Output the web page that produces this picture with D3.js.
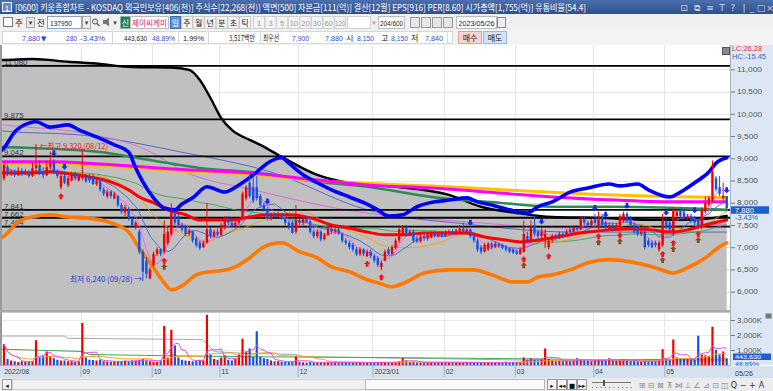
<!DOCTYPE html>
<html>
<head>
<meta charset="utf-8">
<script src="https://cdn.jsdelivr.net/npm/d3@7"></script>
<style>
	body { margin: 0; background: #fff; overflow: hidden; }
</style>
</head>
<body>
<svg id="chart" width="773" height="391"></svg>
<script>
var monthLabels = ['2022/08', '09', '10', '11', '12', '2023/01', '02', '03', '04', '05'];
var monthStarts = [0, 22, 42, 61, 83, 104, 124, 144, 166, 186];
var priceTicks = [11000, 10500, 10000, 9500, 9000, 8500, 8000, 7500, 7000, 6500, 6000];
var volumeTicks = [1000, 2000, 3000];

// open, high, low, close per trading day (2022/08/01 .. 2023/05/26)
var candles = [
	// 2022/08
	[8550,8900,8500,8850],[8800,8850,8600,8650],[8650,8750,8600,8700],[8700,8750,8580,8620],[8620,8800,8600,8720],
	[8720,8780,8600,8640],[8640,8760,8620,8700],[8700,8740,8560,8600],[8600,8900,8580,8780],[8780,9320,8700,8850],
	[8850,8950,8620,8650],[8700,8800,8550,8620],[8620,8950,8600,8800],[8800,9150,8750,8900],[8900,8980,8650,8700],
	[8700,8750,8550,8600],[8350,8650,8300,8600],[8600,8680,8420,8450],[8400,8600,8350,8550],[8500,8700,8480,8650],
	[8650,8700,8500,8550],[8500,8620,8480,8600],
	// 09
	[8550,9220,8500,8620],[8620,8650,8450,8480],[8550,8650,8450,8500],[8600,8650,8400,8420],[8420,8550,8380,8500],
	[8500,8520,8250,8300],[8300,8350,8150,8200],[8150,8300,8100,8250],[8250,8280,8100,8150],[8100,8250,8080,8200],
	[8150,8180,7900,7950],[7950,8000,7750,7800],[7780,7950,7700,7900],[7850,7900,7600,7650],[7650,7700,7450,7500],
	[7450,7600,7400,7550],[7350,7400,6850,6900],[6900,6950,6240,6450],[6700,6780,6300,6400],[6300,6550,6280,6500],
	// 10
	[6600,6900,6550,6850],[6850,7000,6800,6950],[6950,6980,6800,6850],[6900,7600,6850,7300],[7100,7450,7050,7350],
	[7300,7990,7250,7800],[7750,7800,7500,7550],[7700,7750,7450,7500],[7500,7550,7350,7400],[7450,7500,7250,7300],
	[7300,7420,7250,7380],[7350,7380,7100,7150],[7200,7250,7000,7050],[7100,7150,6940,6980],[7000,7150,6980,7100],
	[7100,7990,7080,7400],[7400,7450,7200,7250],[7250,7400,7220,7350],[7350,7420,7250,7280],
	// 11
	[7280,7550,7250,7500],[7450,7700,7400,7650],[7650,7700,7500,7550],[7550,7650,7450,7480],[7480,7600,7450,7550],
	[7550,7650,7500,7600],[7650,8250,7600,8200],[8100,8400,8050,8350],[8450,8650,8100,8150],[8350,8660,8000,8050],
	[8350,8600,8050,8100],[8150,8200,7900,7950],[7950,8000,7800,7850],[7850,7900,7600,7650],[7650,7780,7600,7720],
	[7720,7780,7650,7680],[7680,7800,7650,7730],[7730,7760,7620,7650],[7650,7700,7500,7550],[7550,7600,7400,7450],
	[7550,7600,7300,7320],[7350,7950,7300,7600],
	// 12
	[7600,7650,7500,7550],[7550,7700,7500,7650],[7650,7700,7550,7580],[7580,7620,7300,7350],[7350,7400,7200,7250],
	[7250,7400,7200,7350],[7350,7380,7130,7180],[7180,7320,7150,7280],[7280,7500,7250,7420],[7420,7450,7300,7350],
	[7350,7450,7300,7400],[7400,7450,7280,7300],[7300,7330,7100,7150],[7150,7200,7050,7100],[7100,7150,6950,7000],
	[7050,7100,6900,6950],[6950,7000,6800,6850],[6850,7000,6800,6950],[6950,6980,6800,6850],[6800,6950,6780,6900],
	[6900,6950,6750,6800],
	// 2023/01
	[6800,6850,6650,6700],[6750,6800,6550,6600],[6550,6700,6480,6650],[6700,6950,6680,6900],[6950,7000,6820,6850],
	[6850,7050,6820,7000],[6980,7200,6950,7150],[7150,7500,7100,7400],[7300,7500,7250,7450],[7450,7500,7250,7300],
	[7300,7400,7250,7350],[7350,7400,7100,7150],[7200,7250,7100,7130],[7130,7280,7100,7230],[7250,7300,7150,7200],
	[7200,7320,7150,7280],[7220,7350,7200,7300],[7320,7360,7220,7250],[7250,7350,7220,7300],[7300,7340,7220,7250],
	// 02
	[7250,7380,7230,7330],[7300,7400,7280,7350],[7360,7400,7280,7300],[7300,7420,7280,7380],[7350,7500,7320,7420],
	[7420,7550,7320,7350],[7350,7450,7330,7400],[7400,7420,7200,7250],[7250,7280,7100,7150],[7150,7200,6900,6950],
	[7000,7050,6850,6900],[6900,7100,6880,7050],[6950,7120,6920,7080],[7080,7120,6950,7000],[7000,7130,6980,7080],
	[7080,7100,6980,7020],[7050,7080,6950,6980],[7000,7050,6900,6950],[6980,7000,6870,6900],[6950,6980,6850,6880],
	// 03
	[6900,6950,6830,6850],[6850,7000,6830,6950],[6900,7600,6880,7300],[7250,7350,7100,7150],[7150,7600,7100,7450],
	[7500,7700,7250,7300],[7350,7400,7200,7250],[7250,7450,7200,7350],[7150,7400,6980,7300],[7000,7200,6950,7150],
	[7150,7300,7100,7250],[7250,7300,7150,7200],[7200,7350,7180,7300],[7300,7350,7200,7250],[7250,7400,7230,7350],
	[7400,7450,7300,7350],[7350,7500,7320,7450],[7450,7500,7350,7400],[7400,7700,7380,7650],[7650,7700,7500,7550],
	[7550,7600,7450,7500],[7500,7650,7480,7600],
	// 04
	[7650,7750,7500,7550],[7450,7800,7400,7700],[7700,7750,7450,7500],[7550,7600,7400,7450],[7400,7550,7380,7500],
	[7500,7550,7350,7400],[7400,7550,7380,7500],[7450,7750,7420,7700],[7600,7800,7550,7750],[7750,7800,7550,7600],
	[7650,7700,7450,7500],[7500,7550,7300,7350],[7400,7450,7250,7300],[7300,7400,7250,7350],[7350,7380,6950,7000],
	[7150,7200,7000,7050],[7100,7150,6980,7000],[7100,7150,7000,7050],[6950,7150,6900,7100],[7050,7750,7000,7600],
	// 05
	[7600,7650,7400,7450],[7550,7600,7350,7400],[7300,7900,7250,7850],[7700,7850,7650,7800],[7850,7900,7650,7700],
	[7800,7850,7600,7650],[7650,7750,7600,7700],[7700,7750,7550,7600],[7650,7700,7500,7550],[7600,7650,7450,7500],
	[7450,7900,7400,7850],[7800,8150,7750,8000],[7950,8150,7900,8100],[8050,8950,8000,8700],[8550,8600,8250,8300],
	[8350,8600,8150,8200],[8100,8450,8050,8160],[8150,8150,7840,7880]
];

// volume in thousands of shares
var volumes = [
	1400,400,300,250,200,250,220,200,250,1650,550,600,900,600,450,350,300,300,250,250,220,250,
	2800,500,350,330,300,330,250,230,220,230,220,250,300,250,300,280,350,400,300,250,
	220,200,300,2600,500,2350,1300,500,350,300,280,250,300,350,300,3350,700,400,350,
	500,650,350,300,400,750,1750,900,1100,550,2250,550,450,400,300,250,250,220,200,200,220,600,
	200,180,170,200,180,170,180,160,200,170,160,150,170,180,160,150,170,160,150,180,170,
	160,180,200,180,160,180,200,250,450,300,200,220,180,170,160,180,170,160,150,170,
	160,150,170,160,150,160,170,200,180,170,160,150,160,170,180,160,150,220,170,160,
	170,200,500,350,450,350,300,400,1100,400,300,250,280,250,300,250,280,450,350,300,280,250,
	300,400,300,280,450,300,280,350,400,300,250,250,230,220,300,250,230,250,300,1050,
	400,350,1700,500,450,400,400,380,350,1950,700,650,600,2550,1000,700,900,444
];

// indicator lines: [day index, price]
var cloudTop = [[-1,11210],[0,11210],[8,11230],[18,11170],[27,11120],[36,11050],[47,11040],[52,10985],[55,10760],
	[58,10355],[61,9905],[64,9636],[69,9412],[72,9300],[78,9030],[88,8625],[97,8445],[111,8355],[125,8175],
	[134,7910],[144,7770],[154,7680],[167,7660],[181,7615],[193,7615],[203,7705]];
var upperBand = [[-1,9150],[0,9230],[3,9590],[7,9790],[9,9820],[13,9700],[18,9750],[21,9640],[26,9480],[31,9300],
	[35,9140],[37,8780],[39,8470],[42,8110],[45,7880],[48,7840],[50,7970],[53,8110],[57,8360],[62,8240],[66,8400],
	[71,8690],[74,8890],[78,9010],[80,8890],[84,8630],[88,8450],[92,8290],[97,8130],[102,7970],[105,7840],[108,7700],
	[112,7730],[116,7910],[121,8020],[125,8060],[130,8110],[133,8020],[137,7950],[142,7840],[147,7770],[150,7910],
	[154,8020],[159,8240],[164,8330],[170,8420],[173,8380],[178,8420],[181,8290],[187,8130],[190,8240],[194,8450],
	[198,8690],[200,8890],[203,9010]];
var lowerBand = [[-1,7200],[0,7250],[4,7570],[8,7680],[13,7730],[18,7680],[23,7660],[30,7550],[35,7340],[38,6980],
	[42,6540],[45,6200],[47,6040],[50,6130],[54,6380],[58,6450],[61,6470],[65,6560],[69,6760],[73,7010],[78,7100],
	[83,6900],[88,6760],[92,6560],[97,6450],[102,6270],[105,6200],[109,6110],[113,6220],[118,6420],[125,6490],
	[132,6490],[137,6380],[143,6220],[147,6220],[150,6330],[154,6380],[159,6490],[164,6650],[170,6720],[176,6670],
	[183,6540],[188,6420],[192,6540],[197,6760],[201,7010],[203,7100]];
var midLine = [[-1,8670],[0,8670],[8,8670],[13,8690],[18,8650],[24,8580],[30,8470],[35,8290],[38,8130],[42,8000],
	[46,7840],[51,7730],[55,7610],[64,7610],[69,7680],[74,7730],[80,7730],[86,7660],[92,7500],[97,7430],[102,7340],
	[107,7280],[113,7280],[118,7320],[130,7320],[135,7230],[141,7160],[145,7120],[150,7160],[154,7210],[159,7280],
	[164,7340],[170,7390],[176,7410],[182,7390],[187,7340],[192,7390],[197,7500],[203,7610]];
var longMagenta = [[-1,8920],[0,8920],[13,8920],[27,8870],[51,8740],[69,8670],[88,8510],[102,8400],[120,8330],
	[139,8220],[154,8130],[172,8060],[190,8020],[203,8020]];
var longGold = [[-1,8880],[0,8880],[27,8830],[51,8700],[69,8640],[84,8520],[103,8430],[125,8360],[145,8270],
	[165,8190],[185,8140],[203,8120]];
var longGreen = [[-1,9250],[0,9250],[8,9230],[27,9140],[41,8960],[55,8780],[72,8670],[88,8470],[102,8360],
	[120,8130],[139,8000],[154,7910],[172,7910],[190,7880],[203,7840]];
var thinBlueLong = [[-1,9620],[0,9610],[22,9520],[51,9120],[75,8690],[102,7840],[130,7520],[160,7340],[203,7340]];
var thinPinkLong = [[-1,9760],[0,9750],[22,9570],[40,9190],[51,8690],[70,8290],[100,7790],[130,7570],[160,7430],[203,7520]];

var levelPrices = [11075, 9875, 9042, 7841, 7662, 7464];
var levelLabels = ['11,080', '9,875', '9,042', '7,841', '7,662', '7,464'];

var buySignals = [16, 45, 102, 106, 146, 153, 167, 173, 185, 188, 195];
var buyConfirms = [45, 146, 167, 173, 185, 188, 195];
var sellSignals = [14, 17, 74, 131, 151, 166, 169, 175, 186, 194, 203];

var volGrayLine = [[-1,1930],[0,1930],[17,1930],[18,1780],[54,1700],[56,1670],[59,890],[66,800],[82,700],
	[84,560],[104,480],[120,430],[140,350],[160,280],[180,260],[203,280]];
var volGreenLine = [[-1,1050],[0,1050],[22,900],[24,700],[45,620],[70,550],[104,500],[140,430],[170,350],[203,400]];

var KR = '"Noto Sans CJK KR", sans-serif';
var NUM = '"Liberation Sans", Arial, sans-serif';
var UP = '#f00000', DOWN = '#1450e6';

function addText(g, x, y, str, o) {
	o = o || {};
	var t = g.append('text').attr('x', x).attr('y', y).text(str)
		.style('font-size', (o.size || 8) + 'px')
		.style('font-family', o.font || NUM)
		.attr('fill', o.fill || '#222');
	if (o.anchor) t.attr('text-anchor', o.anchor);
	if (o.weight) t.style('font-weight', o.weight);
	if (o.len) t.attr('textLength', o.len).attr('lengthAdjust', 'spacingAndGlyphs');
	return t;
}

function movingAverage(values, n) {
	return values.map(function(v, i) {
		return d3.mean(values.slice(Math.max(0, i - n + 1), i + 1));
	});
}

var KiwoomChart = function(selector) {
	this.svg = d3.select(selector);
	this.left = 2; this.right = 730;
	this.priceTop = 45; this.priceBottom = 310;
	this.volTop = 312; this.volBottom = 365;
	this.x = d3.scaleLinear().domain([0, candles.length - 1]).range([4, 726.7]);
	this.y = d3.scaleLinear().domain([6000, 11000]).range([291.7, 69.3]);
	this.yv = d3.scaleLinear().domain([0, 3000]).range([365, 320]);
	this.closes = candles.map(function(c) { return c[3]; });
}

KiwoomChart.prototype.draw = function() {
	this.drawHeader();
	this.drawPanels();
	this.drawOverlays();
	this.drawCandles();
	this.drawSignals();
	this.drawPriceAxis();
	this.drawVolume();
	this.drawTimeAxis();
	this.drawBottomBar();
}

KiwoomChart.prototype.drawHeader = function() {
	var svg = this.svg;
	var defs = svg.append('defs');
	var grad = defs.append('linearGradient').attr('id', 'titleGrad').attr('x1', 0).attr('y1', 0).attr('x2', 0).attr('y2', 1);
	grad.append('stop').attr('offset', '0%').attr('stop-color', '#4d6fae');
	grad.append('stop').attr('offset', '100%').attr('stop-color', '#2f4f8e');

	var head = svg.append('g');
	head.append('rect').attr('x', 0).attr('y', 0).attr('width', 773).attr('height', 14).attr('fill', 'url(#titleGrad)');
	head.append('rect').attr('x', 2.5).attr('y', 2.5).attr('width', 9).attr('height', 9).attr('fill', '#6a88c4').attr('stroke', '#fff');
	addText(head, 7, 10.5, '1', { size: 8, fill: '#fff', anchor: 'middle' });
	addText(head, 15, 10.5, '[0600] 키움종합차트 - KOSDAQ 외국인보유[406(천)] 주식수[22,268(천)] 액면[500] 자본금[111(억)] 결산[12월] EPS[916] PER[8.60] 시가총액[1,755(억)] 유통비율[54.4]',
		{ size: 9, font: KR, fill: '#fff', len: 571 });
	var icons = ['⊡', '⧉', '≡', 'T', '?', '|', '_', '□', '×'];
	var iconX = [684, 697, 710, 722, 733, 744, 752, 761, 770];
	icons.forEach(function(c, i) { addText(head, iconX[i], 10.5, c, { size: 9, fill: '#c9d3e8', anchor: 'middle', font: '"DejaVu Sans", sans-serif' }); });

	// toolbar
	var tb = svg.append('g');
	tb.append('rect').attr('x', 0).attr('y', 14).attr('width', 773).attr('height', 16).attr('fill', '#f0f0f0');
	tb.append('rect').attr('x', 3.5).attr('y', 17.5).attr('width', 9).attr('height', 9).attr('fill', '#fff').attr('stroke', '#777');
	addText(tb, 15, 26, '주', { size: 8.5, font: KR });
	tb.append('rect').attr('x', 26.5).attr('y', 17.5).attr('width', 8).attr('height', 10).attr('fill', '#e8e8e8').attr('stroke', '#aaa');
	addText(tb, 30.5, 25, '▾', { size: 7, anchor: 'middle', fill: '#444', font: '"DejaVu Sans", sans-serif' });
	addText(tb, 37, 26, '전', { size: 8.5, font: KR });
	tb.append('rect').attr('x', 47.5).attr('y', 16.5).attr('width', 34).attr('height', 12).attr('fill', '#fff').attr('stroke', '#8da2c0');
	addText(tb, 50, 25.5, '137950', { size: 8, len: 22 });
	tb.append('rect').attr('x', 82.5).attr('y', 16.5).attr('width', 8).attr('height', 12).attr('fill', '#eee').attr('stroke', '#aaa');
	addText(tb, 86.5, 25, '▾', { size: 7, anchor: 'middle', fill: '#444', font: '"DejaVu Sans", sans-serif' });
	tb.append('circle').attr('cx', 95).attr('cy', 21.5).attr('r', 2.5).attr('fill', 'none').attr('stroke', '#555');
	tb.append('line').attr('x1', 97).attr('y1', 23.5).attr('x2', 99.5).attr('y2', 26).attr('stroke', '#555').attr('stroke-width', 1.2);
	tb.append('path').attr('d', 'M103,20 L106,20 L109,17.5 L109,26.5 L106,24 L103,24 Z').attr('fill', '#777');
	addText(tb, 115, 25, '▾', { size: 7, anchor: 'middle', fill: '#444', font: '"DejaVu Sans", sans-serif' });
	tb.append('rect').attr('x', 120.5).attr('y', 16.5).attr('width', 10).attr('height', 12).attr('fill', '#1f7d5c');
	addText(tb, 125.5, 25.5, '신', { size: 8, font: KR, fill: '#fff', anchor: 'middle' });
	tb.append('rect').attr('x', 130.5).attr('y', 16.5).attr('width', 38).attr('height', 12).attr('fill', '#fff').attr('stroke', '#bbb');
	addText(tb, 132, 25.5, '제이씨케미', { size: 8.5, font: KR, fill: '#d0206a', len: 35 });
	tb.append('rect').attr('x', 170.5).attr('y', 16.5).attr('width', 10).attr('height', 12).attr('fill', '#5a8fd8').attr('stroke', '#3c6fb8');
	addText(tb, 175.5, 25.5, '일', { size: 8, font: KR, fill: '#fff', anchor: 'middle' });
	['주', '월', '년', '분', '초', '틱'].forEach(function(c, i) {
		var bx = 181.5 + i * 11.6;
		tb.append('rect').attr('x', bx).attr('y', 16.5).attr('width', 11).attr('height', 12).attr('fill', '#f4f4f4').attr('stroke', '#c8c8c8');
		addText(tb, bx + 5.5, 25.5, c, { size: 8, font: KR, anchor: 'middle' });
	});
	['1', '3', '5', '10', '20', '30', '60', '120'].forEach(function(c, i) {
		var bx = 253.5 + i * 11.6;
		tb.append('rect').attr('x', bx).attr('y', 16.5).attr('width', 11).attr('height', 12).attr('fill', '#f4f4f4').attr('stroke', '#d0d0d0');
		addText(tb, bx + 5.5, 25.5, c, { size: 7.5, anchor: 'middle', fill: '#9a9a9a', len: c.length > 2 ? 10 : null });
	});
	tb.append('rect').attr('x', 347.5).attr('y', 16.5).attr('width', 23).attr('height', 12).attr('fill', '#fff').attr('stroke', '#d0d0d0');
	addText(tb, 374, 25, '▾', { size: 7, anchor: 'middle', fill: '#aaa', font: '"DejaVu Sans", sans-serif' });
	tb.append('rect').attr('x', 378.5).attr('y', 16.5).attr('width', 26).attr('height', 12).attr('fill', '#fff').attr('stroke', '#bbb');
	addText(tb, 380, 25.5, '204/600', { size: 7.5, len: 23 });
	[410, 421, 432, 443].forEach(function(ix) {
		tb.append('rect').attr('x', ix + 0.5).attr('y', 17.5).attr('width', 9).attr('height', 10).attr('fill', '#e6e6e6').attr('stroke', '#999');
	});
	tb.append('rect').attr('x', 456.5).attr('y', 16.5).attr('width', 40).attr('height', 12).attr('fill', '#fff').attr('stroke', '#bbb');
	addText(tb, 458.5, 25.5, '2023/05/26', { size: 7.5, len: 36 });
	tb.append('rect').attr('x', 497.5).attr('y', 17.5).attr('width', 8).attr('height', 10).attr('fill', '#eee').attr('stroke', '#888');

	// info row
	var info = svg.append('g');
	info.append('rect').attr('x', 0).attr('y', 30).attr('width', 773).attr('height', 15).attr('fill', '#f3f3f3');
	info.append('rect').attr('x', 2.5).attr('y', 31.5).attr('width', 450).attr('height', 12).attr('fill', '#fff').attr('stroke', '#d6d6d6');
	[112, 178, 208, 260, 447].forEach(function(sx) {
		info.append('line').attr('x1', sx + 0.5).attr('x2', sx + 0.5).attr('y1', 31.5).attr('y2', 43.5).attr('stroke', '#d6d6d6');
	});
	var blue = '#1f4fd0';
	addText(info, 22, 41, '7,880', { size: 8, fill: blue, len: 18 });
	addText(info, 41, 41, '▼', { size: 7, fill: blue, font: '"DejaVu Sans", sans-serif' });
	addText(info, 66, 41, '280', { size: 8, fill: blue, len: 11 });
	addText(info, 80, 41, '-3.43%', { size: 8, fill: blue, len: 25 });
	addText(info, 124, 41, '443,630', { size: 8, len: 23 });
	addText(info, 152, 41, '48.89%', { size: 8, fill: blue, len: 23 });
	addText(info, 183, 41, '1.99%', { size: 8, len: 21 });
	addText(info, 229, 41, '3,517백만', { size: 8, font: KR, len: 26 });
	addText(info, 263, 41, '최우선', { size: 8, font: KR, len: 16 });
	addText(info, 292, 41, '7,900', { size: 8, fill: blue, len: 17 });
	addText(info, 325, 41, '7,880', { size: 8, fill: blue, len: 18 });
	addText(info, 346, 41, '시', { size: 8, font: KR });
	addText(info, 357, 41, '8,150', { size: 8, fill: blue, len: 17 });
	addText(info, 381, 41, '고', { size: 8, font: KR });
	addText(info, 391, 41, '8,150', { size: 8, fill: blue, len: 17 });
	addText(info, 411, 41, '저', { size: 8, font: KR });
	addText(info, 425, 41, '7,840', { size: 8, fill: blue, len: 18 });
	info.append('rect').attr('x', 458.5).attr('y', 31.5).attr('width', 23).attr('height', 12).attr('fill', '#f7d3d3').attr('stroke', '#dca4a4');
	addText(info, 470, 41, '매수', { size: 8, font: KR, anchor: 'middle' });
	info.append('rect').attr('x', 483.5).attr('y', 31.5).attr('width', 23).attr('height', 12).attr('fill', '#d3e2f6').attr('stroke', '#9fb8da');
	addText(info, 495, 41, '매도', { size: 8, font: KR, anchor: 'middle' });
}

KiwoomChart.prototype.drawPanels = function() {
	var svg = this.svg, x = this.x, y = this.y;
	svg.append('rect').attr('x', 0).attr('y', 45).attr('width', 773).attr('height', 333).attr('fill', '#fff');
	svg.append('rect').attr('x', 0).attr('y', 45).attr('width', 2).attr('height', 333).attr('fill', '#9a9a9a');

	var defs = svg.select('defs');
	defs.append('clipPath').attr('id', 'priceClip').append('rect')
		.attr('x', this.left).attr('y', this.priceTop).attr('width', this.right - this.left).attr('height', this.priceBottom - this.priceTop);
	defs.append('clipPath').attr('id', 'volClip').append('rect')
		.attr('x', this.left).attr('y', this.volTop).attr('width', this.right - this.left).attr('height', this.volBottom - this.volTop);

	var grid = svg.append('g').attr('clip-path', 'url(#priceClip)');
	grid.selectAll('line.h').data(priceTicks).enter().append('line')
		.attr('x1', this.left).attr('x2', this.right)
		.attr('y1', function(d) { return Math.round(y(d)) + 0.5; })
		.attr('y2', function(d) { return Math.round(y(d)) + 0.5; })
		.attr('stroke', '#e6e6e6');
	grid.selectAll('line.v').data(monthStarts.slice(1)).enter().append('line')
		.attr('x1', function(d) { return Math.round(x(d) - 1.8) + 0.5; })
		.attr('x2', function(d) { return Math.round(x(d) - 1.8) + 0.5; })
		.attr('y1', this.priceTop).attr('y2', this.priceBottom)
		.attr('stroke', '#e6e6e6');

	// gray cloud under the long black line
	var area = d3.area().curve(d3.curveMonotoneX)
		.x(function(d) { return x(d[0]); })
		.y0(this.priceBottom)
		.y1(function(d) { return y(d[1]); });
	this.overlay = svg.append('g').attr('clip-path', 'url(#priceClip)');
	this.overlay.append('path').datum(cloudTop).attr('d', area).attr('fill', '#c0c0c0');

	svg.append('rect').attr('x', 0).attr('y', this.priceBottom).attr('width', 773).attr('height', 2).attr('fill', '#a8a8a8');
}

KiwoomChart.prototype.line = function(data, color, width) {
	var x = this.x, y = this.y;
	var gen = d3.line().curve(d3.curveMonotoneX)
		.x(function(d) { return x(d[0]); })
		.y(function(d) { return y(d[1]); });
	this.overlay.append('path').datum(data).attr('d', gen)
		.attr('fill', 'none').attr('stroke', color).attr('stroke-width', width)
		.attr('stroke-linejoin', 'round').attr('stroke-linecap', 'round');
}

KiwoomChart.prototype.drawOverlays = function() {
	var y = this.y, g = this.overlay;
	this.line(cloudTop, '#000', 2.4);
	this.line(thinBlueLong, '#4a5fd0', 0.9);
	this.line(thinPinkLong, '#e060d8', 0.9);

	levelPrices.forEach(function(p, i) {
		g.append('line').attr('x1', 2).attr('x2', 730).attr('y1', y(p)).attr('y2', y(p))
			.attr('stroke', '#000').attr('stroke-width', 1.8);
		addText(g, 4, y(p) - 1.2, levelLabels[i], { size: 7.5, fill: '#333', len: levelLabels[i].length * 3.9 });
	});

	this.line(longGreen, '#2e8b57', 2.6);
	this.line(longGold, '#ffc000', 3);
	this.line(longMagenta, '#ff00ff', 3);

	var idx = this.closes.map(function(c, i) { return i; });
	var self = this;
	[[60, '#3aa55a'], [20, '#f5a000'], [10, '#4060dd'], [5, '#ff50ff']].forEach(function(m) {
		var ma = movingAverage(self.closes, m[0]);
		self.line(idx.map(function(i) { return [i, ma[i]]; }), m[1], 0.9);
	});

	this.line(midLine, '#ff0000', 3);
	this.line(upperBand, '#0000ff', 3.6);
	this.line(lowerBand, '#ff7800', 3.6);
}

KiwoomChart.prototype.drawCandles = function() {
	var x = this.x, y = this.y;
	var g = this.svg.append('g').attr('clip-path', 'url(#priceClip)');
	var sel = g.selectAll('g.candle').data(candles).enter().append('g');
	sel.append('line')
		.attr('x1', function(d, i) { return x(i); }).attr('x2', function(d, i) { return x(i); })
		.attr('y1', function(d) { return y(d[1]); }).attr('y2', function(d) { return y(d[2]); })
		.attr('stroke', function(d) { return d[3] >= d[0] ? UP : DOWN; }).attr('stroke-width', 1);
	sel.append('rect')
		.attr('x', function(d, i) { return x(i) - 1.2; }).attr('width', 2.4)
		.attr('y', function(d) { return y(Math.max(d[0], d[3])); })
		.attr('height', function(d) { return Math.max(1, Math.abs(y(d[0]) - y(d[3]))); })
		.attr('fill', function(d) { return d[3] >= d[0] ? UP : DOWN; });

	// high / low notes
	addText(g, 40, 149, '←최고 9,320 (08/12)', { size: 8, font: KR, fill: '#e02020', len: 68 });
	addText(g, 70, 282, '최저 6,240 (09/28) →', { size: 8, font: KR, fill: '#2040d0', len: 72 });
}

KiwoomChart.prototype.drawSignals = function() {
	var x = this.x, y = this.y;
	var g = this.svg.append('g').attr('clip-path', 'url(#priceClip)');
	var upArrow = 'M0,-3.2 L3.2,0 L1.4,0 L1.4,2.8 L-1.4,2.8 L-1.4,0 L-3.2,0 Z';
	var downArrow = 'M0,3.2 L3.2,0 L1.4,0 L1.4,-2.8 L-1.4,-2.8 L-1.4,0 L-3.2,0 Z';
	g.selectAll('path.buy').data(buySignals).enter().append('path')
		.attr('d', upArrow).attr('fill', '#ff1010')
		.attr('transform', function(i) { return 'translate(' + x(i) + ',' + (y(candles[i][2]) + 7) + ')'; });
	g.selectAll('path.conf').data(buyConfirms).enter().append('path')
		.attr('d', upArrow).attr('fill', '#8b4a1c')
		.attr('transform', function(i) { return 'translate(' + x(i) + ',' + (y(candles[i][2]) + 13) + ')'; });
	g.selectAll('path.sell').data(sellSignals).enter().append('path')
		.attr('d', downArrow).attr('fill', '#1030e0')
		.attr('transform', function(i) { return 'translate(' + x(i) + ',' + (y(candles[i][1]) - 6) + ')'; });
}

KiwoomChart.prototype.drawPriceAxis = function() {
	var svg = this.svg, y = this.y;
	svg.append('rect').attr('x', 730).attr('y', 45).attr('width', 43).attr('height', 320).attr('fill', '#dde7f3');
	svg.append('line').attr('x1', 730.5).attr('x2', 730.5).attr('y1', 45).attr('y2', 378).attr('stroke', '#9fb0c8');

	var axis = d3.axisRight(y).tickValues(priceTicks).tickFormat(d3.format(',')).tickSize(4).tickPadding(2);
	var ag = svg.append('g').attr('transform', 'translate(731,0)').call(axis);
	ag.select('.domain').remove();
	ag.selectAll('line').attr('stroke', '#777');
	ag.selectAll('text').attr('fill', '#555').style('font-size', '7px').style('font-family', NUM)
		.attr('textLength', function(d) { return d >= 10000 ? 25 : 21; }).attr('lengthAdjust', 'spacingAndGlyphs');

	svg.append('rect').attr('x', 722.5).attr('y', 47.5).attr('width', 7).attr('height', 7).attr('fill', '#888').attr('stroke', '#555');
	addText(svg, 732, 51, 'LC:26.28', { size: 6.8, fill: '#e03030', len: 30 });
	addText(svg, 732, 58.5, 'HC:-15.45', { size: 6.8, fill: '#3366cc', len: 34 });

	// current price tag, kept just below the 8,000 tick label
	var last = candles[candles.length - 1][3];
	var tagTop = y(last) - 1.8;
	svg.append('rect').attr('x', 731).attr('y', tagTop).attr('width', 38).attr('height', 7.5).attr('fill', '#1c5fd4');
	addText(svg, 735, tagTop + 6.3, d3.format(',')(last), { size: 6.8, fill: '#fff', len: 19 });
	addText(svg, 735, tagTop + 13.6, '-3.43%', { size: 6.5, fill: '#2255cc', len: 23 });
}

KiwoomChart.prototype.drawVolume = function() {
	var svg = this.svg, x = this.x, yv = this.yv;
	var g = svg.append('g').attr('clip-path', 'url(#volClip)');
	g.selectAll('line.h').data(volumeTicks).enter().append('line')
		.attr('x1', this.left).attr('x2', this.right)
		.attr('y1', function(d) { return yv(d) + 0.5; }).attr('y2', function(d) { return yv(d) + 0.5; })
		.attr('stroke', '#e8e8e8');
	g.selectAll('line.v').data(monthStarts.slice(1)).enter().append('line')
		.attr('x1', function(d) { return Math.round(x(d) - 1.8) + 0.5; })
		.attr('x2', function(d) { return Math.round(x(d) - 1.8) + 0.5; })
		.attr('y1', this.volTop).attr('y2', this.volBottom).attr('stroke', '#e6e6e6');

	var lineGen = d3.line().x(function(d) { return x(d[0]); }).y(function(d) { return yv(d[1]); });
	g.append('path').datum(volGrayLine).attr('d', lineGen).attr('fill', 'none').attr('stroke', '#a8a8a8').attr('stroke-width', 1);
	g.append('path').datum(volGreenLine).attr('d', lineGen).attr('fill', 'none').attr('stroke', '#3caa5a').attr('stroke-width', 1);

	g.selectAll('rect.vol').data(volumes).enter().append('rect')
		.attr('x', function(d, i) { return x(i) - 1.1; }).attr('width', 2.2)
		.attr('y', function(d) { return yv(d); })
		.attr('height', function(d) { return yv(0) - yv(d); })
		.attr('fill', function(d, i) { return candles[i][3] >= candles[i][0] ? UP : DOWN; });

	var idx = volumes.map(function(v, i) { return i; });
	[[20, '#f5a623'], [5, '#e050d8']].forEach(function(m) {
		var ma = movingAverage(volumes, m[0]);
		g.append('path').datum(idx.map(function(i) { return [i, ma[i]]; })).attr('d', lineGen)
			.attr('fill', 'none').attr('stroke', m[1]).attr('stroke-width', 1);
	});

	var axis = d3.axisRight(yv).tickValues(volumeTicks).tickFormat(function(d) { return d3.format(',')(d) + 'K'; }).tickSize(4).tickPadding(2);
	var ag = svg.append('g').attr('transform', 'translate(731,0)').call(axis);
	ag.select('.domain').remove();
	ag.selectAll('line').attr('stroke', '#777');
	ag.selectAll('text').attr('fill', '#555').style('font-size', '6.5px').style('font-family', NUM)
		.attr('textLength', 25).attr('lengthAdjust', 'spacingAndGlyphs');
	svg.append('rect').attr('x', 765.5).attr('y', 313.5).attr('width', 6).attr('height', 5).attr('fill', '#777');

	// last volume tag, kept under the 1,000K tick label
	svg.append('rect').attr('x', 733).attr('y', 353.5).attr('width', 38).attr('height', 6.5).attr('fill', '#1c5fd4');
	addText(svg, 735, 359, '443,630', { size: 6.2, fill: '#fff', len: 26 });
	addText(svg, 735, 366, '48.89%', { size: 6.2, fill: '#2255cc', len: 24 });

	svg.append('line').attr('x1', 2).attr('x2', 730).attr('y1', this.volTop + 0.5).attr('y2', this.volTop + 0.5).attr('stroke', '#c8c8c8');
}

KiwoomChart.prototype.drawTimeAxis = function() {
	var svg = this.svg, x = this.x;
	svg.append('rect').attr('x', 0).attr('y', 366).attr('width', 773).attr('height', 12).attr('fill', '#d5e1ef');
	svg.append('line').attr('x1', 0).attr('x2', 730).attr('y1', 365.5).attr('y2', 365.5).attr('stroke', '#9fb0c8');
	var axis = d3.axisBottom(x).tickValues(monthStarts)
		.tickFormat(function(d, i) { return monthLabels[i]; }).tickSize(12).tickPadding(0);
	var ag = svg.append('g').attr('transform', 'translate(-1.8,365)').call(axis);
	ag.select('.domain').remove();
	ag.selectAll('line').attr('stroke', '#9fb0c8').attr('opacity', function(d, i) { return i === 0 ? 0 : 1; });
	ag.selectAll('text').attr('text-anchor', 'start').attr('x', 1.5).attr('y', 3.5)
		.attr('fill', '#444').style('font-size', '7.5px').style('font-family', NUM)
		.attr('textLength', function(d, i) { return monthLabels[i].length > 2 ? 25 : 7.5; }).attr('lengthAdjust', 'spacingAndGlyphs');
	addText(svg, 735, 375.5, '05/26', { size: 7.5, fill: '#444', len: 18 });
}

KiwoomChart.prototype.drawBottomBar = function() {
	var svg = this.svg;
	var g = svg.append('g');
	g.append('rect').attr('x', 0).attr('y', 378).attr('width', 773).attr('height', 13).attr('fill', '#ececec');
	g.append('rect').attr('x', 2.5).attr('y', 379.5).attr('width', 9).attr('height', 10).attr('fill', '#f4f4f4').attr('stroke', '#999');
	addText(g, 7, 387.5, '◂', { size: 7, anchor: 'middle', fill: '#222', font: '"DejaVu Sans", sans-serif' });
	g.append('rect').attr('x', 12.5).attr('y', 379.5).attr('width', 532).attr('height', 10).attr('fill', '#f0f0f0').attr('stroke', '#d0d0d0');
	g.append('rect').attr('x', 365.5).attr('y', 379.5).attr('width', 179).attr('height', 10).attr('fill', '#fafafa').attr('stroke', '#b8b8b8');
	var ctl = ['▸', '◂◂', '■', '▸▸'];
	ctl.forEach(function(c, i) {
		var bx = 547.5 + i * 10;
		g.append('rect').attr('x', bx).attr('y', 379.5).attr('width', 9).attr('height', 10).attr('fill', '#f6f6f6').attr('stroke', '#999');
		addText(g, bx + 4.5, 387.5, c, { size: 6.5, anchor: 'middle', fill: '#111', font: '"DejaVu Sans", sans-serif', len: c.length > 1 ? 7 : null });
	});
	g.append('line').attr('x1', 592).attr('x2', 631).attr('y1', 382.5).attr('y2', 382.5).attr('stroke', '#777');
	g.append('rect').attr('x', 603).attr('y', 380).attr('width', 2).attr('height', 6).attr('fill', '#555');
	for (var t = 0; t < 10; t++) {
		g.append('rect').attr('x', 592 + t * 4.3).attr('y', 387).attr('width', 1).attr('height', 1).attr('fill', '#666');
	}
	var tools = ['⊞', '⊟', '⊠', '⊼', '⋈', '⊥', '∠', '⊿', '⊡', '◫', 'Q', '−', '+', 'A'];
	tools.forEach(function(c, i) {
		addText(g, 642 + i * 9.2, 388, c, { size: 8, anchor: 'middle', fill: i > 9 ? '#333' : '#8a8a8a', font: '"DejaVu Sans", sans-serif' });
	});
}

var chart = new KiwoomChart('#chart');
chart.draw();
</script>
</body>
</html>
